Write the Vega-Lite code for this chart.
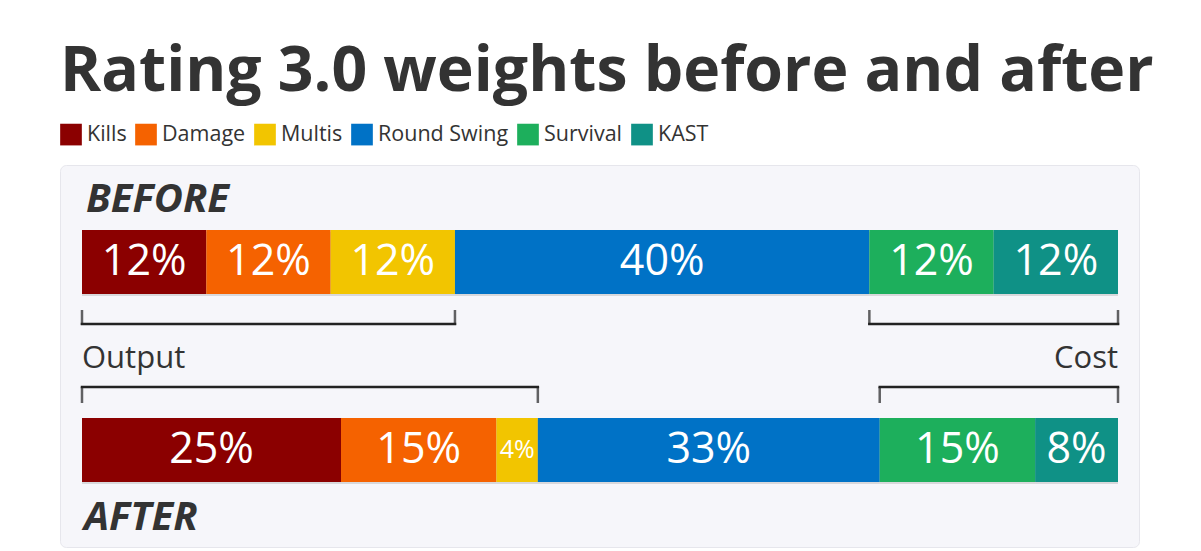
{
  "$schema": "https://vega.github.io/schema/vega-lite/v6.json",
  "width": 1079,
  "height": 382,
  "autosize": {"type": "none"},
  "padding": {"left": 60, "top": 165, "right": 62, "bottom": 4},
  "background": "#ffffff",
  "title": {
    "text": "Rating 3.0 weights before and after",
    "anchor": "start",
    "frame": "group",
    "font": "Open Sans",
    "fontSize": 62.5,
    "fontWeight": "bold",
    "color": "#333333",
    "baseline": "alphabetic",
    "offset": 0,
    "dy": 30
  },
  "config": {
    "view": {"fill": "#f6f6fa", "stroke": "#e6e6ec", "cornerRadius": 6, "strokeWidth": 1},
    "font": "Open Sans",
    "legend": {
      "orient": "none",
      "legendX": 0,
      "legendY": -41.5,
      "direction": "horizontal",
      "symbolType": "square",
      "symbolSize": 470,
      "symbolStrokeWidth": 0,
      "symbolOpacity": 1,
      "labelFont": "Open Sans",
      "labelFontSize": 21.5,
      "labelColor": "#333333",
      "labelOffset": 5,
      "columnPadding": 8,
      "title": null
    }
  },
  "data": {
    "values": [
      {"period": "Before", "component": "Kills", "weight": 12, "group": "Output"},
      {"period": "Before", "component": "Damage", "weight": 12, "group": "Output"},
      {"period": "Before", "component": "Multis", "weight": 12, "group": "Output"},
      {"period": "Before", "component": "Round Swing", "weight": 40, "group": "Swing"},
      {"period": "Before", "component": "Survival", "weight": 12, "group": "Cost"},
      {"period": "Before", "component": "KAST", "weight": 12, "group": "Cost"},
      {"period": "After", "component": "Kills", "weight": 25, "group": "Output"},
      {"period": "After", "component": "Damage", "weight": 15, "group": "Output"},
      {"period": "After", "component": "Multis", "weight": 4, "group": "Output"},
      {"period": "After", "component": "Round Swing", "weight": 33, "group": "Swing"},
      {"period": "After", "component": "Survival", "weight": 15, "group": "Cost"},
      {"period": "After", "component": "KAST", "weight": 8, "group": "Cost"}
    ]
  },
  "transform": [
    {"stack": "weight", "groupby": ["period"], "as": ["x0", "x1"]},
    {"calculate": "(datum.x0 + datum.x1) / 2", "as": "mid"},
    {"calculate": "datum.weight + '%'", "as": "label"}
  ],
  "encoding": {
    "y": {
      "field": "period",
      "type": "nominal",
      "axis": null,
      "scale": {"domain": ["Before", "After"], "range": [65, 317], "paddingInner": 0.6596, "paddingOuter": 0}
    }
  },
  "layer": [
    {
      "mark": {"type": "bar", "color": "#000000", "opacity": 0.12, "yOffset": 2, "cornerRadius": 0},
      "encoding": {
        "x": {"field": "x0", "type": "quantitative", "axis": null, "scale": {"domain": [0, 100], "range": [22, 1058]}},
        "x2": {"field": "x1"}
      }
    },
    {
      "mark": {"type": "bar", "cornerRadius": 0},
      "encoding": {
        "x": {"field": "x0", "type": "quantitative", "axis": null, "scale": {"domain": [0, 100], "range": [22, 1058]}},
        "x2": {"field": "x1"},
        "color": {
          "field": "component",
          "type": "nominal",
          "scale": {
            "domain": ["Kills", "Damage", "Multis", "Round Swing", "Survival", "KAST"],
            "range": ["#8b0000", "#f56200", "#f2c500", "#0072c6", "#1daf5c", "#0f9186"]
          },
          "legend": {}
        }
      }
    },
    {
      "transform": [{"filter": "datum.weight > 5"}],
      "mark": {"type": "text", "color": "#ffffff", "fontSize": 43, "font": "Open Sans", "baseline": "middle", "align": "center"},
      "encoding": {
        "x": {"field": "mid", "type": "quantitative"},
        "text": {"field": "label"}
      }
    },
    {
      "transform": [{"filter": "datum.weight <= 5"}],
      "mark": {"type": "text", "color": "#ffffff", "fontSize": 25, "font": "Open Sans", "baseline": "middle", "align": "center"},
      "encoding": {
        "x": {"field": "mid", "type": "quantitative"},
        "text": {"field": "label"}
      }
    },
    {
      "transform": [
        {"filter": "datum.group != 'Swing'"},
        {"aggregate": [{"op": "min", "field": "x0", "as": "s"}, {"op": "max", "field": "x1", "as": "e"}], "groupby": ["period", "group"]},
        {"filter": "datum.period == 'Before'"}
      ],
      "mark": {"type": "rule", "color": "#222222", "strokeWidth": 2.5, "yOffset": 62, "strokeCap": "square"},
      "encoding": {
        "x": {"field": "s", "type": "quantitative"},
        "x2": {"field": "e"}
      }
    },
    {
      "transform": [
        {"filter": "datum.group != 'Swing'"},
        {"aggregate": [{"op": "min", "field": "x0", "as": "s"}, {"op": "max", "field": "x1", "as": "e"}], "groupby": ["period", "group"]},
        {"filter": "datum.period == 'After'"}
      ],
      "mark": {"type": "rule", "color": "#222222", "strokeWidth": 2.5, "yOffset": -63, "strokeCap": "square"},
      "encoding": {
        "x": {"field": "s", "type": "quantitative"},
        "x2": {"field": "e"}
      }
    },
    {
      "transform": [
        {"filter": "datum.group != 'Swing'"},
        {"aggregate": [{"op": "min", "field": "x0", "as": "s"}, {"op": "max", "field": "x1", "as": "e"}], "groupby": ["period", "group"]},
        {"filter": "datum.period == 'Before'"},
        {"fold": ["s", "e"], "as": ["end", "xv"]}
      ],
      "mark": {"type": "tick", "color": "#222222", "thickness": 2.5, "size": 15, "yOffset": 55.5, "orient": "vertical"},
      "encoding": {
        "x": {"field": "xv", "type": "quantitative"}
      }
    },
    {
      "transform": [
        {"filter": "datum.group != 'Swing'"},
        {"aggregate": [{"op": "min", "field": "x0", "as": "s"}, {"op": "max", "field": "x1", "as": "e"}], "groupby": ["period", "group"]},
        {"filter": "datum.period == 'After'"},
        {"fold": ["s", "e"], "as": ["end", "xv"]}
      ],
      "mark": {"type": "tick", "color": "#222222", "thickness": 2.5, "size": 16, "yOffset": -55, "orient": "vertical"},
      "encoding": {
        "x": {"field": "xv", "type": "quantitative"}
      }
    },
    {
      "transform": [
        {"filter": "datum.group == 'Output'"},
        {"aggregate": [{"op": "min", "field": "x0", "as": "s"}], "groupby": ["period", "group"]},
        {"filter": "datum.period == 'Before'"}
      ],
      "mark": {"type": "text", "align": "left", "baseline": "alphabetic", "fontSize": 31, "font": "Open Sans", "color": "#333333", "yOffset": 106},
      "encoding": {
        "x": {"field": "s", "type": "quantitative"},
        "text": {"field": "group"}
      }
    },
    {
      "transform": [
        {"filter": "datum.group == 'Cost'"},
        {"aggregate": [{"op": "max", "field": "x1", "as": "e"}], "groupby": ["period", "group"]},
        {"filter": "datum.period == 'Before'"}
      ],
      "mark": {"type": "text", "align": "right", "baseline": "alphabetic", "fontSize": 31, "font": "Open Sans", "color": "#333333", "yOffset": 106},
      "encoding": {
        "x": {"field": "e", "type": "quantitative"},
        "text": {"field": "group"}
      }
    },
    {
      "transform": [
        {"filter": "datum.component == 'Kills' && datum.period == 'Before'"},
        {"calculate": "upper(datum.period)", "as": "plabel"}
      ],
      "mark": {"type": "text", "align": "left", "baseline": "alphabetic", "fontSize": 40, "font": "Open Sans", "fontWeight": "bold", "fontStyle": "italic", "color": "#333333", "yOffset": -50, "dx": 4},
      "encoding": {
        "x": {"field": "x0", "type": "quantitative"},
        "text": {"field": "plabel"}
      }
    },
    {
      "transform": [
        {"filter": "datum.component == 'Kills' && datum.period == 'After'"},
        {"calculate": "upper(datum.period)", "as": "plabel"}
      ],
      "mark": {"type": "text", "align": "left", "baseline": "alphabetic", "fontSize": 40, "font": "Open Sans", "fontWeight": "bold", "fontStyle": "italic", "color": "#333333", "yOffset": 80, "dx": 2},
      "encoding": {
        "x": {"field": "x0", "type": "quantitative"},
        "text": {"field": "plabel"}
      }
    }
  ]
}
